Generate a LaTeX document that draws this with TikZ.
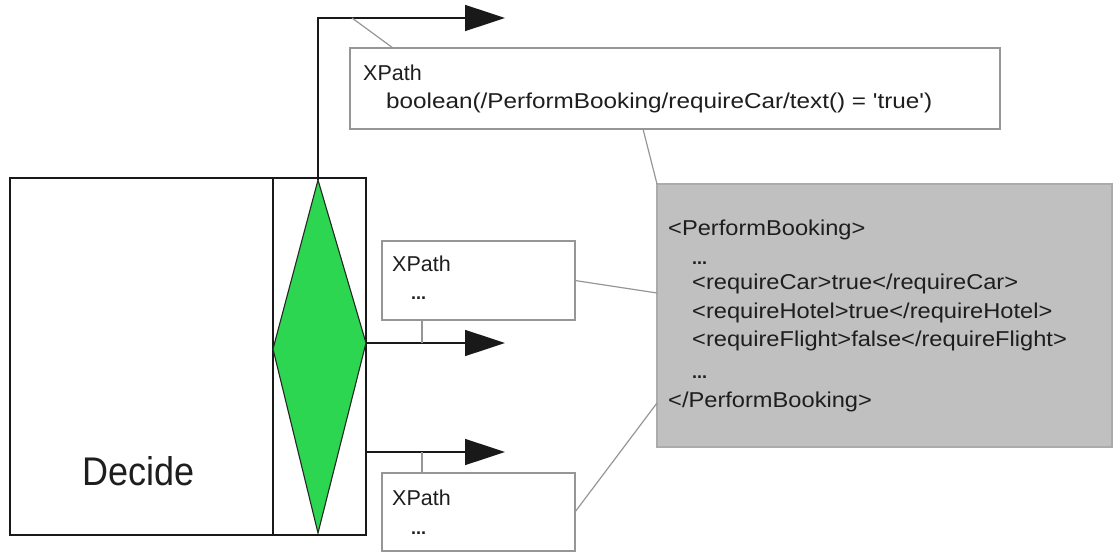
\documentclass[tikz,border=0pt]{standalone}
\usepackage{fontspec}
\setmainfont{Liberation Sans}
\newfontfamily\annfont[FakeStretch=1.1]{Liberation Sans}
\newfontfamily\bigannfont[FakeStretch=1.13]{Liberation Sans}
\newfontfamily\decfont[FakeStretch=0.9]{Liberation Sans}
\usetikzlibrary{arrows.meta,calc}
\definecolor{dgreen}{RGB}{44,214,80}
\definecolor{boxgray}{RGB}{192,192,192}
\definecolor{linegray}{RGB}{150,150,150}
\definecolor{txt}{RGB}{30,30,30}
\begin{document}
\begin{tikzpicture}[x=1pt,y=-1pt,
  blk/.style={draw=black!90, line width=1.3pt},
  flow/.style={draw=black!90, line width=1.6pt, -{Triangle[length=40pt,width=26pt]}},
  xbox/.style={draw=linegray, line width=1.2pt, fill=white, inner sep=0pt, outer sep=0pt, anchor=north west},
  gbox/.style={draw=linegray!80, line width=1.2pt, fill=boxgray, inner sep=0pt, outer sep=0pt, anchor=north west},
  link/.style={draw=linegray, line width=1.2pt},
  lbl/.style={inner sep=0pt, anchor=base west, text=txt, font=\fontsize{21.5}{21.5}\selectfont},
  ann/.style={inner sep=0pt, anchor=base west, text=txt, font=\annfont\fontsize{21.5}{21.5}\selectfont},
  bigann/.style={inner sep=0pt, anchor=base west, text=txt, font=\bigannfont\fontsize{21.5}{21.5}\selectfont},
  dots/.style={inner sep=0pt, anchor=base west, text=txt, font=\bfseries\fontsize{18}{18}\selectfont}]
\useasboundingbox (0,0) rectangle (1114,554);
% main activity
\node[blk, inner sep=0pt, outer sep=0pt, anchor=north west, minimum width=356pt, minimum height=357pt] (outer) at (10,178) {};
\draw[blk] (273,178) -- (273,535);
\node[inner sep=0pt, anchor=base, text=txt, font=\decfont\fontsize{40}{40}\selectfont] (declbl) at (139,485) {Decide};
% diamond
\coordinate (dtop) at (318,180);
\coordinate (dright) at (366,343);
\coordinate (dbot) at (318,533);
\coordinate (dleft) at (273,349);
\draw[fill=dgreen, draw=black!85, line width=1.1pt] (dtop) -- (dright) -- (dbot) -- (dleft) -- cycle;
% arrows
\coordinate (a1corner) at (318,18);
\coordinate (a1end) at (505,18);
\coordinate (a2end) at (505,343);
\coordinate (a3start) at (366,452);
\coordinate (a3end) at (505,452);
\draw[flow] (dtop) -- (a1corner) -- (a1end);
\draw[flow] (dright) -- (a2end);
\draw[flow] (a3start) -- (a3end);
% boxes
\node[xbox, minimum width=650pt, minimum height=81pt] (b1) at (350,48) {};
\node[xbox, minimum width=193pt, minimum height=79pt] (b2) at (382,241) {};
\node[xbox, minimum width=193pt, minimum height=78pt] (b3) at (382,473) {};
\node[gbox, minimum width=455pt, minimum height=263pt] (gray) at (657,184) {};
% links
\coordinate (l1a) at (352,18);
\draw[link] (l1a) -- ($(b1.north west)+(43,0)$);
\draw[link] ($(b1.south west)+(293,0)$) -- (gray.north west);
\draw[link] (b2.east) -- ($(gray.north west)+(0,109)$);
\draw[link] (b3.east) -- ($(gray.north west)+(0,219)$);
\draw[link] ($(b2.south west)+(40,0)$) coordinate (v2) -- (v2 |- dright);
\draw[link] ($(b3.north west)+(40,0)$) coordinate (v3) -- (v3 |- a3start);
% texts
\node[lbl] (t1a) at (363,80) {XPath};
\node[bigann] (t1b) at (386,108) {boolean(/PerformBooking/requireCar/text() = 'true')};
\node[lbl] (t2a) at (392,271) {XPath};
\node[dots] (t2b) at (411,299) {...};
\node[lbl] (t3a) at (392,505) {XPath};
\node[dots] (t3b) at (411,534) {...};
\node[ann] (g1) at (668,235) {<PerformBooking>};
\node[dots] (g2) at (692,264) {...};
\node[ann] (g3) at (692,289) {<requireCar>true</requireCar>};
\node[ann] (g4) at (692,318) {<requireHotel>true</requireHotel>};
\node[ann] (g5) at (692,346) {<requireFlight>false</requireFlight>};
\node[dots] (g6) at (692,378) {...};
\node[ann] (g7) at (668,407) {</PerformBooking>};
\end{tikzpicture}
\end{document}
